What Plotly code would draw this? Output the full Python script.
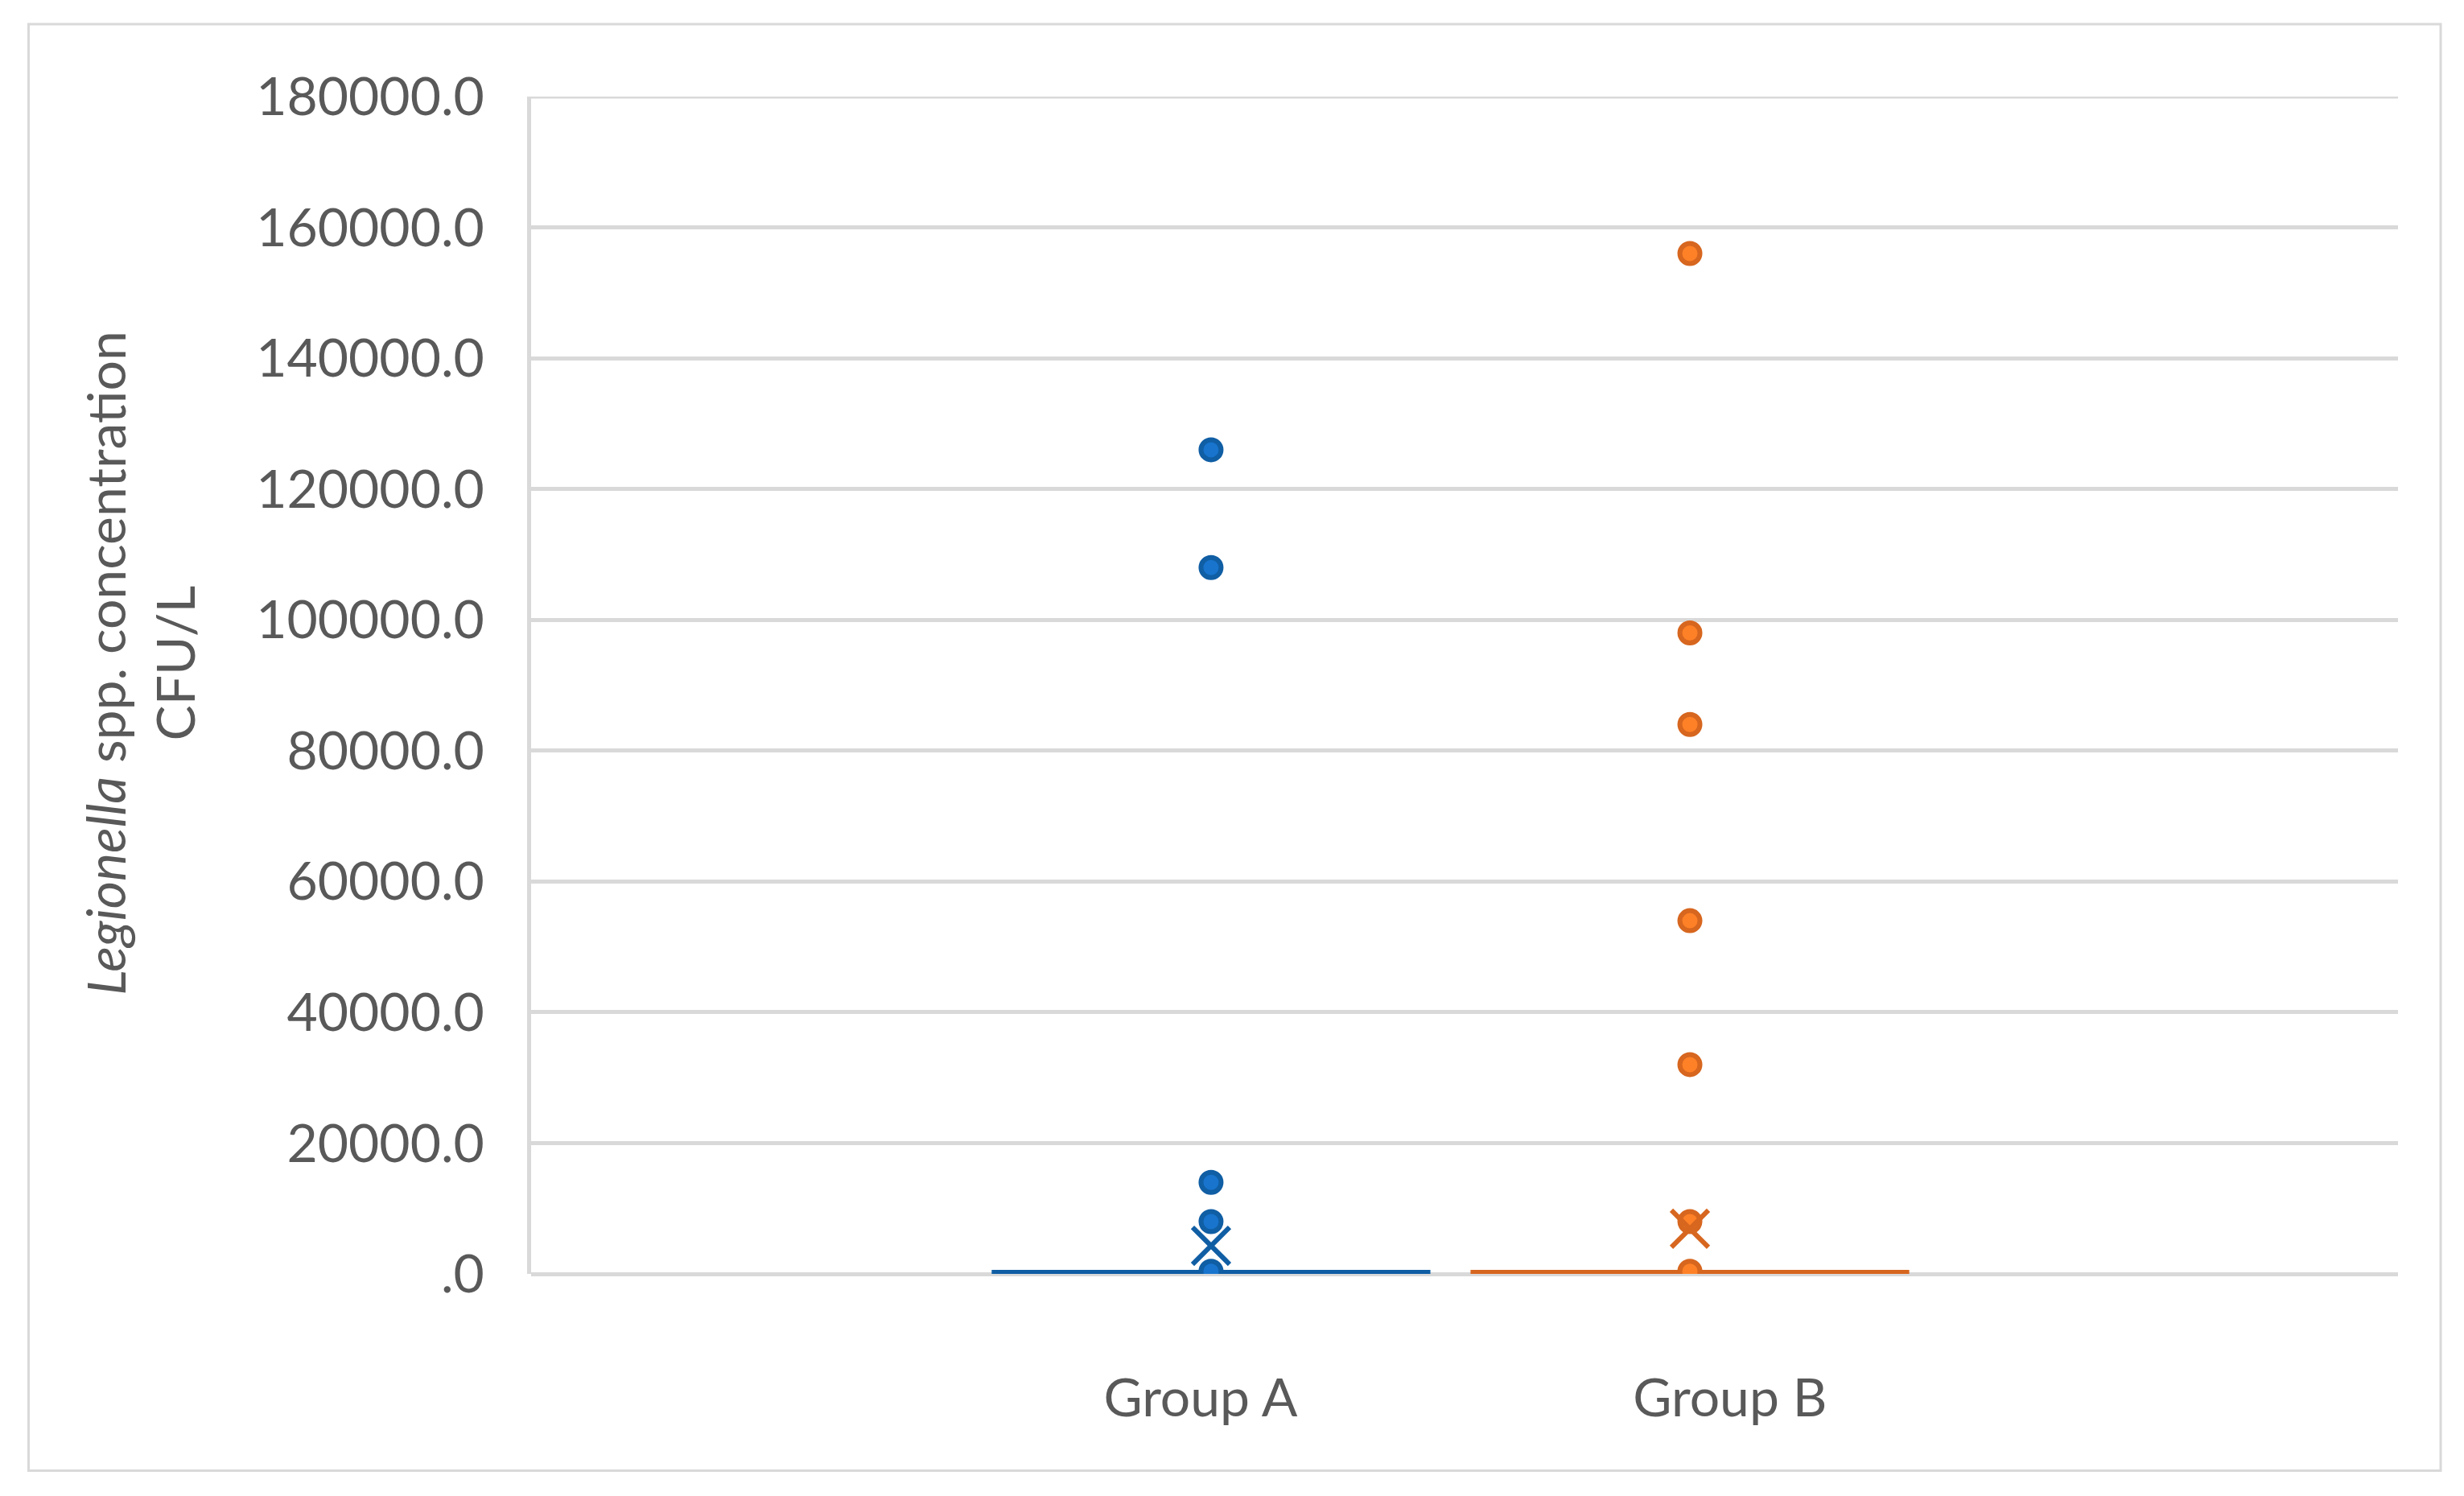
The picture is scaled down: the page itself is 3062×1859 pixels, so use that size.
import plotly.graph_objects as go

# ---- data ----
groups = ["Group A", "Group B"]
tick_positions = [0.3586, 0.6422]          # category label positions on the x axis
box_positions = [0.3642, 0.6207]           # box centres on the x axis
q1 = [0, 0]
median = [0, 0]
q3 = [0, 0]
lower_fence = [0, 0]
upper_fence = [0, 0]
means = [4300, 6900]
outliers_a = [126000, 108000, 14000, 8000, 400]
outliers_b = [156000, 98000, 84000, 54000, 32000, 8000, 400]
y_tick_vals = [0, 20000, 40000, 60000, 80000, 100000, 120000, 140000, 160000, 180000]
y_tick_text = [".0", "20000.0", "40000.0", "60000.0", "80000.0", "100000.0",
               "120000.0", "140000.0", "160000.0", "180000.0"]

line_colors = ["#105EA4", "#D7661F"]
fill_colors = ["#1874CD", "#FF8127"]
outliers = [outliers_a, outliers_b]

FONT = "Lato, 'Open Sans', sans-serif"
GRID = "#D9D9D9"
TEXT = "#595959"

OFF = 8  # page body margin
W, H = 3062 - OFF, 1859 - OFF
# plot area in page pixels: x 660..2980, y 120..1583.5
PX0, PX1, PY0, PY1 = 660, 2980, 120, 1583.5
L, R = PX0 - OFF, W - (PX1 - OFF)
T, B = PY0 - OFF, H - (PY1 - OFF)
PW, PH = PX1 - PX0, PY1 - PY0


def px(xp):
    return (xp - PX0) / PW


def py(yp):
    return (PY1 - yp) / PH


fig = go.Figure()
for i, g in enumerate(groups):
    fig.add_trace(go.Box(
        name=g,
        x=[box_positions[i]],
        q1=[q1[i]], median=[median[i]], q3=[q3[i]],
        lowerfence=[lower_fence[i]], upperfence=[upper_fence[i]],
        width=0.235,
        line=dict(color=line_colors[i], width=10),
        fillcolor="rgba(0,0,0,0)",
        boxpoints=False,
        whiskerwidth=0,
        showlegend=False,
    ))
    fig.add_trace(go.Scatter(
        x=[box_positions[i]] * len(outliers[i]),
        y=outliers[i],
        mode="markers",
        marker=dict(symbol="circle", size=25, color=fill_colors[i],
                    line=dict(color=line_colors[i], width=6)),
        showlegend=False,
    ))
    fig.add_trace(go.Scatter(
        x=[box_positions[i]],
        y=[means[i]],
        mode="markers",
        marker=dict(symbol="x-thin", size=46,
                    line=dict(color=line_colors[i], width=6)),
        showlegend=False,
    ))

fig.update_layout(
    width=W, height=H,
    margin=dict(l=L, r=R, t=T, b=B, pad=0),
    paper_bgcolor="white", plot_bgcolor="white",
    font=dict(family=FONT, size=66, color=TEXT),
    xaxis=dict(range=[0, 1], tickmode="array", tickvals=tick_positions,
               ticktext=groups, showgrid=False, zeroline=False, showline=False,
               ticks="", ticklabelstandoff=110,
               tickfont=dict(family=FONT, size=66, color=TEXT)),
    yaxis=dict(range=[0, 180000], tickmode="array", tickvals=y_tick_vals,
               ticktext=y_tick_text, showgrid=True, gridcolor=GRID, gridwidth=5,
               zeroline=True, zerolinecolor=GRID, zerolinewidth=5,
               showline=True, linecolor=GRID, linewidth=5,
               ticks="", ticklabelstandoff=40,
               tickfont=dict(family=FONT, size=66, color=TEXT)),
    shapes=[
        dict(type="rect", xref="paper", yref="paper",
             x0=px(35.5), x1=px(3033), y0=py(1828), y1=py(30),
             line=dict(color=GRID, width=3), fillcolor="rgba(0,0,0,0)",
             layer="below"),
        dict(type="line", xref="paper", yref="y",
             x0=0, x1=1, y0=y_tick_vals[-1], y1=y_tick_vals[-1],
             line=dict(color=GRID, width=5), layer="below"),
    ],
    annotations=[dict(text="<i>Legionella</i> spp. concentration<br>CFU/L",
                      xref="paper", yref="paper",
                      x=px(174), y=py(824),
                      xanchor="center", yanchor="middle", textangle=-90,
                      showarrow=False, align="center",
                      font=dict(family=FONT, size=66, color=TEXT))],
)

fig.write_html("out.html")
